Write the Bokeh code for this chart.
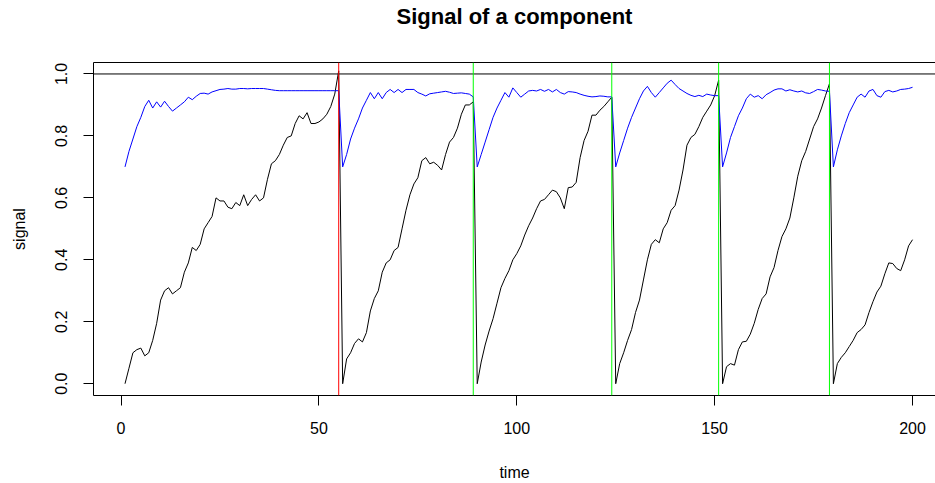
from bokeh.plotting import figure
from bokeh.models import Range1d, FixedTicker, PrintfTickFormatter, Span, LinearAxis
from bokeh.embed import file_html
from bokeh.resources import INLINE

# ---- data ----
black_c1 = [0.00, 0.05, 0.10, 0.11, 0.115, 0.09, 0.10, 0.14, 0.195, 0.27,
            0.30, 0.31, 0.29, 0.30, 0.31, 0.36, 0.39, 0.44, 0.43, 0.45,
            0.50, 0.52, 0.54, 0.60, 0.59, 0.59, 0.57, 0.565, 0.585, 0.575,
            0.61, 0.575, 0.595, 0.61, 0.59, 0.60, 0.66, 0.71, 0.72, 0.74,
            0.77, 0.795, 0.80, 0.84, 0.865, 0.855, 0.875, 0.84, 0.84, 0.845,
            0.855, 0.87, 0.895, 0.935, 1.01]
black_c2 = [0.0, 0.08, 0.10, 0.13, 0.145, 0.135, 0.165, 0.235, 0.275, 0.30,
            0.36, 0.39, 0.40, 0.43, 0.44, 0.50, 0.56, 0.61, 0.645, 0.665,
            0.72, 0.73, 0.71, 0.715, 0.705, 0.69, 0.74, 0.78, 0.795, 0.825,
            0.87, 0.90, 0.90, 0.91]
black_c3 = [0.0, 0.07, 0.125, 0.17, 0.21, 0.26, 0.31, 0.34, 0.365, 0.40,
            0.42, 0.445, 0.48, 0.51, 0.535, 0.565, 0.59, 0.595, 0.61, 0.625,
            0.62, 0.60, 0.565, 0.633, 0.635, 0.65, 0.73, 0.785, 0.815, 0.867,
            0.867, 0.883, 0.895, 0.91, 0.925]
black_c4 = [0.0, 0.065, 0.10, 0.14, 0.175, 0.23, 0.27, 0.335, 0.40, 0.45,
            0.465, 0.455, 0.50, 0.52, 0.56, 0.575, 0.625, 0.69, 0.77, 0.795,
            0.805, 0.83, 0.86, 0.88, 0.90, 0.93, 0.98]
black_c5 = [0.0, 0.055, 0.065, 0.06, 0.11, 0.135, 0.137, 0.16, 0.195, 0.24,
            0.275, 0.29, 0.345, 0.375, 0.43, 0.475, 0.50, 0.535, 0.60, 0.67,
            0.72, 0.75, 0.79, 0.83, 0.855, 0.89, 0.93, 0.968]
black_c6 = [0.0, 0.065, 0.085, 0.10, 0.12, 0.14, 0.165, 0.175, 0.19, 0.23,
            0.265, 0.296, 0.315, 0.355, 0.39, 0.388, 0.372, 0.365, 0.40, 0.445,
            0.465]

blue_c1 = [0.70, 0.75, 0.79, 0.83, 0.86, 0.895, 0.915, 0.89, 0.91, 0.893,
           0.912, 0.895, 0.88, 0.89, 0.90, 0.91, 0.925, 0.917, 0.928, 0.937,
           0.938, 0.935, 0.942, 0.946, 0.95, 0.951, 0.953, 0.951, 0.951, 0.953,
           0.953, 0.952, 0.953, 0.953, 0.953, 0.953, 0.951, 0.949, 0.947, 0.946,
           0.946, 0.946, 0.946, 0.946, 0.946, 0.946, 0.946, 0.946, 0.946, 0.946,
           0.946, 0.946, 0.946, 0.946, 0.946]
blue_c2 = [0.70, 0.74, 0.79, 0.825, 0.855, 0.89, 0.915, 0.94, 0.92, 0.94,
           0.92, 0.94, 0.95, 0.94, 0.95, 0.94, 0.95, 0.95, 0.95, 0.94,
           0.935, 0.929, 0.936, 0.938, 0.940, 0.942, 0.944, 0.941, 0.937, 0.938,
           0.939, 0.937, 0.935, 0.926]
blue_c3 = [0.70, 0.74, 0.78, 0.82, 0.86, 0.89, 0.915, 0.94, 0.925, 0.955,
           0.94, 0.925, 0.935, 0.945, 0.947, 0.945, 0.95, 0.944, 0.95, 0.942,
           0.95, 0.94, 0.935, 0.943, 0.942, 0.94, 0.935, 0.931, 0.928, 0.926,
           0.927, 0.929, 0.928, 0.926, 0.926]
blue_c4 = [0.70, 0.745, 0.785, 0.825, 0.86, 0.89, 0.92, 0.945, 0.96, 0.94,
           0.925, 0.94, 0.955, 0.97, 0.98, 0.966, 0.953, 0.945, 0.937, 0.931,
           0.927, 0.931, 0.927, 0.935, 0.932, 0.930, 0.93]
blue_c5 = [0.70, 0.745, 0.795, 0.83, 0.865, 0.89, 0.92, 0.935, 0.925, 0.93,
           0.92, 0.933, 0.94, 0.948, 0.952, 0.952, 0.945, 0.949, 0.945, 0.942,
           0.945, 0.939, 0.937, 0.943, 0.95, 0.948, 0.945, 0.944]
blue_c6 = [0.70, 0.755, 0.80, 0.84, 0.875, 0.90, 0.925, 0.935, 0.925, 0.945,
           0.95, 0.93, 0.925, 0.943, 0.947, 0.942, 0.945, 0.95, 0.951, 0.953,
           0.957]

change_points = [55, 89, 124, 151, 179]
change_colors = ["#FF0000", "#00FF00", "#00FF00", "#00FF00", "#00FF00"]
threshold = 1.0
x_ticks = [0, 50, 100, 150, 200]
y_ticks = [0.0, 0.2, 0.4, 0.6, 0.8, 1.0]
title_text = "Signal of a component"

black = black_c1 + black_c2 + black_c3 + black_c4 + black_c5 + black_c6
blue = blue_c1 + blue_c2 + blue_c3 + blue_c4 + blue_c5 + blue_c6
time = list(range(1, len(black) + 1))

FONT = "Liberation Sans"

p = figure(width=935, height=483, output_backend="svg", toolbar_location=None,
           x_range=Range1d(-6.96, 205.8), y_range=Range1d(-0.038, 1.037),
           min_border_left=93, min_border_right=0, min_border_top=62,
           min_border_bottom=88)
p.title.visible = False
p.grid.visible = False
p.outline_line_color = None
p.background_fill_color = "white"
p.border_fill_color = "white"

# lines
p.line(time, black, line_color="black", line_width=1)
p.line(time, blue, line_color="#0000FF", line_width=1)

p.add_layout(Span(location=threshold, dimension="width", line_color="black", line_width=1))
for cp, col in zip(change_points, change_colors):
    p.add_layout(Span(location=cp, dimension="height", line_color=col, line_width=1))

# axes
for ax in (p.xaxis[0], p.yaxis[0]):
    ax.axis_line_color = "black"
    ax.major_tick_line_color = "black"
    ax.major_tick_in = 0
    ax.major_tick_out = 10
    ax.minor_tick_line_color = None
    ax.major_label_text_font = FONT
    ax.major_label_text_font_size = "16px"
    ax.major_label_text_color = "black"
    ax.axis_label_text_font = FONT
    ax.axis_label_text_font_size = "16px"
    ax.axis_label_text_font_style = "normal"
    ax.axis_label_text_color = "black"

p.xaxis.ticker = FixedTicker(ticks=x_ticks)
p.xaxis.axis_label = "time"
p.xaxis.major_label_standoff = 16
p.xaxis.axis_label_standoff = 27

p.yaxis.ticker = FixedTicker(ticks=y_ticks)
p.yaxis.formatter = PrintfTickFormatter(format="%.1f")
p.yaxis.major_label_orientation = "vertical"
p.yaxis.axis_label = "signal"
p.yaxis.major_label_standoff = 16
p.yaxis.axis_label_standoff = 25

# top edge of the box (no ticks) carrying the chart title as its label
top = LinearAxis(ticker=FixedTicker(ticks=[]), axis_line_color="black",
                 major_tick_line_color=None, minor_tick_line_color=None,
                 major_tick_out=0, major_tick_in=0, major_label_standoff=0,
                 major_label_text_font_size="0px",
                 axis_label=title_text, axis_label_standoff=34,
                 axis_label_text_font=FONT, axis_label_text_font_size="22px",
                 axis_label_text_font_style="bold", axis_label_text_color="black")
p.add_layout(top, "above")

open("out.html", "w").write(file_html(p, INLINE))
